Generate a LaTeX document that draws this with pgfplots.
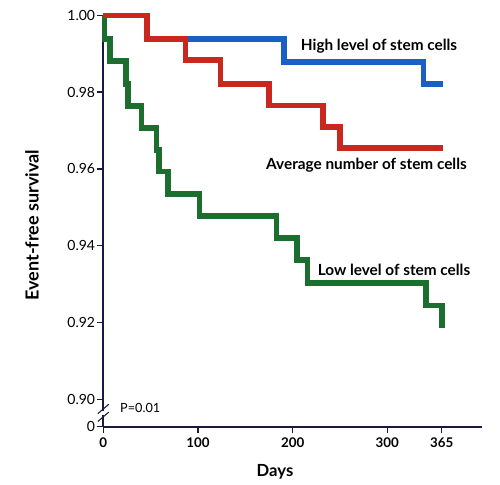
\documentclass[border=0pt]{standalone}
\usepackage{fontspec}
\setmainfont{Lato}
\usepackage{pgfplots}
\pgfplotsset{compat=1.18}
\definecolor{cblue}{HTML}{1A5FC4}
\definecolor{cred}{HTML}{C8281E}
\definecolor{cgreen}{HTML}{1B6E2E}
\definecolor{axcol}{HTML}{1A1A40}
\begin{document}
\begin{tikzpicture}
\begin{axis}[
  scale only axis, width=284.25pt, height=308.5pt,
  xmin=0, xmax=400.3, ymin=0.89292, ymax=1.0,
  axis lines=left, axis line style={-, axcol, line width=1.4pt},
  clip=false,
  xtick={0,100,200,300,357.5}, xticklabels={0,100,200,300,365},
  ytick={0.89292,0.90,0.92,0.94,0.96,0.98,1.0},
  yticklabels={0,0.90,0.92,0.94,0.96,0.98,1.00},
  tick align=outside, major tick length=5pt,
  tick style={axcol, line width=1pt},
  xticklabel style={font=\fontsize{10}{12}\selectfont\bfseries},
  yticklabel style={font=\fontsize{10.5}{12}\selectfont, inner xsep=1pt},
  xlabel={Days}, ylabel={Event-free survival},
  xlabel style={at={(axis description cs:0.453,-0.109)}, anchor=center, font=\fontsize{12.5}{14}\selectfont\bfseries},
  ylabel style={at={(axis description cs:-0.188,0.49)}, anchor=center, font=\fontsize{13.5}{15}\selectfont\bfseries},
]
\addplot[const plot, cblue, line width=4.1pt] coordinates {
 (0,1) (46,0.9938) (191,0.9879) (338,0.9821) (359,0.9821)};
\addplot[const plot, cgreen, line width=4.1pt] coordinates {
 (0,1) (1.5,0.9938) (7,0.9881) (24,0.9821) (26,0.9764) (40.6,0.9707)
 (56.4,0.9649) (58.8,0.9593) (68.3,0.9535) (101.4,0.9478) (183,0.9420)
 (204.7,0.9363) (215.9,0.9303) (341,0.9244) (357.5,0.9186)};
\addplot[const plot, cred, line width=4.1pt] coordinates {
 (0,1) (46,0.9938) (87,0.9884) (124,0.9821) (175,0.9765) (232,0.9709)
 (250,0.9655) (359,0.9655)};
\node[font=\fontsize{11.5}{13}\selectfont\bfseries, anchor=center] at (axis cs:291.2,0.99201) {High level of stem cells};
\node[font=\fontsize{11.5}{13}\selectfont\bfseries, anchor=center] at (axis cs:278,0.96085) {Average number of stem cells};
\node[font=\fontsize{11.5}{13}\selectfont\bfseries, anchor=center] at (axis cs:307,0.93371) {Low level of stem cells};
\node[font=\fontsize{9.5}{11}\selectfont, anchor=west, inner sep=0pt] at (axis cs:17.6,0.89779) {P=0.01};
% axis break
\fill[white] ([xshift=-2pt,yshift=-1.6pt]axis cs:0,0.8965) rectangle ([xshift=2pt,yshift=1.6pt]axis cs:0,0.8965);
\draw[axcol, line width=0.8pt] ([xshift=-4.1pt,yshift=-2pt]axis cs:0,0.8970) -- ([xshift=4.1pt,yshift=5pt]axis cs:0,0.8970);
\draw[axcol, line width=0.8pt] ([xshift=-4.1pt,yshift=-5pt]axis cs:0,0.8960) -- ([xshift=4.1pt,yshift=2pt]axis cs:0,0.8960);
\coordinate (bl) at (rel axis cs:-0.2726,-0.1417);
\coordinate (tr) at (rel axis cs:1.0467,1.0372);
\end{axis}
\path[use as bounding box] (bl) rectangle (tr);
\end{tikzpicture}
\end{document}
